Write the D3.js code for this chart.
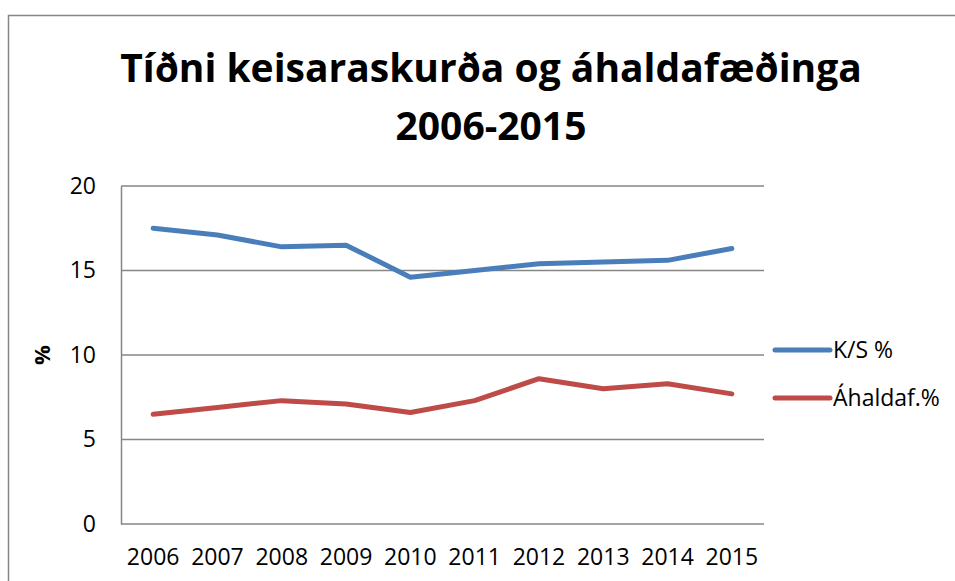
<!DOCTYPE html>
<html lang="is">
<head>
  <meta charset="UTF-8">
  <title>Tíðni keisaraskurða og áhaldafæðinga 2006-2015</title>
  <style>
    body {
      margin: 0;
      background: #fff;
      font-family: "Open Sans", "Liberation Sans", sans-serif;
    }
    svg {
      display: block;
    }
  </style>
  <script src="https://d3js.org/d3.v7.min.js"></script>
</head>
<body>

<svg width="955" height="581"></svg>

<script>
  // data
  const years = ["2006", "2007", "2008", "2009", "2010", "2011", "2012", "2013", "2014", "2015"];
  const ksValues = [17.5, 17.1, 16.4, 16.5, 14.6, 15.0, 15.4, 15.5, 15.6, 16.3];
  const ahaldValues = [6.5, 6.9, 7.3, 7.1, 6.6, 7.3, 8.6, 8.0, 8.3, 7.7];
  const yTicks = [0, 5, 10, 15, 20];
  const titleLines = ["Tíðni keisaraskurða og áhaldafæðinga", "2006-2015"];

  const series = [
    { name: "K/S %", values: ksValues, color: "#4a7ebb" },
    { name: "Áhaldaf.%", values: ahaldValues, color: "#be4b48" }
  ];

  const svg = d3.select("svg"),
        width = +svg.attr("width"),
        height = +svg.attr("height");

  const gridColor = "#868686";

  // chart frame (right and bottom edges run off the picture)
  svg.append("rect")
    .attr("x", 8.5)
    .attr("y", 15.5)
    .attr("width", width + 20)
    .attr("height", height + 20)
    .attr("fill", "#fff")
    .attr("stroke", gridColor)
    .attr("stroke-width", 1.5);

  // title
  svg.append("g")
    .selectAll("text")
    .data(titleLines)
    .enter().append("text")
      .attr("x", 491)
      .attr("y", (d, i) => 82 + i * 58)
      .attr("text-anchor", "middle")
      .attr("font-weight", "bold")
      .attr("font-size", 39)
      .attr("fill", "#000")
      .text(d => d);

  const plot = { left: 121, right: 764, top: 186, bottom: 524 };

  const x = d3.scaleBand()
    .domain(years)
    .range([plot.left, plot.right]);

  const y = d3.scaleLinear()
    .domain([0, 20])
    .range([plot.bottom, plot.top]);

  // horizontal gridlines
  svg.append("g")
    .selectAll("line")
    .data(yTicks)
    .enter().append("line")
      .attr("x1", plot.left)
      .attr("x2", plot.right)
      .attr("y1", d => y(d))
      .attr("y2", d => y(d))
      .attr("stroke", gridColor)
      .attr("stroke-width", 1.5);

  // y axis
  const yAxis = svg.append("g")
    .attr("transform", `translate(${plot.left},0)`)
    .call(d3.axisLeft(y).tickValues(yTicks).tickSize(0).tickPadding(25));
  yAxis.select(".domain").attr("stroke", gridColor).attr("stroke-width", 1.5);
  yAxis.selectAll("text")
    .attr("font-family", "Open Sans, Liberation Sans, sans-serif")
    .attr("font-size", 23)
    .attr("fill", "#000");

  // x axis labels
  const xAxis = svg.append("g")
    .attr("transform", `translate(0,${plot.bottom})`)
    .call(d3.axisBottom(x).tickSize(0).tickPadding(25));
  xAxis.select(".domain").remove();
  xAxis.selectAll("text")
    .attr("font-family", "Open Sans, Liberation Sans, sans-serif")
    .attr("font-size", 23)
    .attr("fill", "#000");

  // y axis title
  svg.append("text")
    .attr("transform", `translate(50,${y(10)}) rotate(-90)`)
    .attr("text-anchor", "middle")
    .attr("font-weight", "bold")
    .attr("font-size", 22)
    .text("%");

  // lines
  const line = d3.line()
    .x((d, i) => x(years[i]) + x.bandwidth() / 2)
    .y(d => y(d));

  svg.append("g")
    .selectAll("path")
    .data(series)
    .enter().append("path")
      .attr("d", d => line(d.values))
      .attr("fill", "none")
      .attr("stroke", d => d.color)
      .attr("stroke-width", 5)
      .attr("stroke-linecap", "round")
      .attr("stroke-linejoin", "round");

  // legend
  const legend = svg.append("g")
    .attr("transform", "translate(775,350)");

  const items = legend.selectAll("g")
    .data(series)
    .enter().append("g")
      .attr("transform", (d, i) => `translate(0,${i * 48})`);

  items.append("line")
    .attr("x1", 0)
    .attr("x2", 55)
    .attr("stroke", d => d.color)
    .attr("stroke-width", 5)
    .attr("stroke-linecap", "round");

  items.append("text")
    .attr("x", 58)
    .attr("dy", "0.35em")
    .attr("font-size", 23)
    .attr("fill", "#000")
    .text(d => d.name);
</script>

</body>
</html>
